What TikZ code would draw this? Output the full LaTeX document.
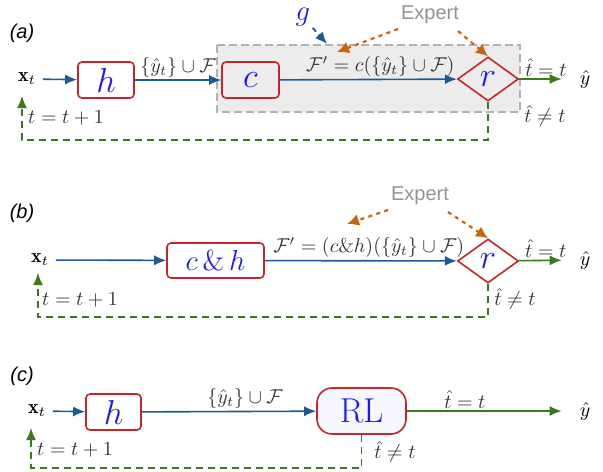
\documentclass[tikz,border=0pt]{standalone}
\usepackage{amsmath,amssymb}
\usepackage{fontspec}
\setsansfont{Liberation Sans}
\usetikzlibrary{arrows.meta,shapes.geometric}
\definecolor{arrblue}{HTML}{1B5A96}
\definecolor{boxred}{HTML}{C8242C}
\definecolor{txtblue}{HTML}{1A1AF5}
\definecolor{okgreen}{HTML}{3A7A18}
\definecolor{expcol}{HTML}{C8660C}
\definecolor{boxgray}{HTML}{ECECEC}
\begin{document}
\begin{tikzpicture}[x=0.5pt,y=-0.5pt,
	box/.style={draw=boxred, line width=0.8pt, rounded corners=2pt, text=txtblue, inner sep=0pt},
	dec/.style={diamond, draw=boxred, line width=0.8pt, text=txtblue, inner sep=0pt, minimum width=30.5pt, minimum height=22pt, font=\LARGE},
	flow/.style={arrblue, line width=0.8pt, -{Latex[length=6pt,width=5pt]}},
	done/.style={okgreen, line width=0.8pt, -{Latex[length=6pt,width=5pt]}, shorten >=5.5pt},
	back/.style={okgreen, line width=0.8pt, dash pattern=on 3.5pt off 2.5pt, -{Latex[length=6pt,width=5pt]}},
	hint/.style={expcol, line width=1.1pt, dash pattern=on 2pt off 2.2pt, -{Latex[length=6pt,width=6pt]}},
	lbl/.style={text=black!80, inner sep=1pt},
	tag/.style={font=\sffamily\itshape}]
	\useasboundingbox (0,0) rectangle (603,471);
	% (a)
	\node[tag] (la) at (22,33) {(a)};
	\draw[gray!60, fill=boxgray, line width=0.8pt, dash pattern=on 4pt off 2pt] (217,45) rectangle (520,112);
	\node (xa) at (27,79) {$\mathbf{x}_t$};
	\node[box, minimum width=28pt, minimum height=18pt, font=\LARGE] (ha) at (106,80) {$h$};
	\node[box, minimum width=28.5pt, minimum height=18pt, font=\LARGE] (ca) at (250.5,80) {$c$};
	\node[dec] (ra) at (488,79) {$r$};
	\node (ya) at (585,79) {$\hat{y}$};
	\draw[flow] (xa) -- (ha);
	\draw[flow] (ha) -- node[lbl, above] {$\{\hat{y}_t\}\cup\mathcal{F}$} (ca);
	\draw[flow] (ca) -- node[lbl, above, xshift=6pt] {$\mathcal{F}'=c(\{\hat{y}_t\}\cup\mathcal{F})$} (ra);
	\draw[done] (ra) -- node[lbl, above] {$\hat{t}=t$} (ya);
	\node[lbl] (na) at (545,116) {$\hat{t}\neq t$};
	\coordinate (fa) at (22,96);
	\draw[back] (ra.south) -- ++(0,38) -| (fa);
	\node[lbl] (ka) at (66,118) {$t=t+1$};
	\node[text=txtblue, font=\Large, inner sep=1pt] (g) at (303,17) {$g$};
	\coordinate (ga) at (327,44);
	\draw[arrblue, line width=0.9pt, dash pattern=on 2.5pt off 2pt, -{Latex[length=6pt,width=5pt]}] (g) -- (ga);
	\node[text=gray!85, font=\sffamily] (ea) at (430,15) {Expert};
	\coordinate (ta) at (337,52);
	\draw[hint] ([xshift=2pt,yshift=1pt]ea.south west) -- (ta);
	\draw[hint] ([xshift=-4pt]ea.south east) -- (ra.north);
	% (b)
	\node[tag] (lb) at (22,213) {(b)};
	\node (xb) at (40,260) {$\mathbf{x}_t$};
	\node[box, minimum width=48.5pt, minimum height=17.5pt, font=\Large] (chb) at (215.5,260.5) {$c\,\&\,h$};
	\node[dec] (rb) at (488,261) {$r$};
	\node (yb) at (585,260) {$\hat{y}$};
	\draw[flow] (xb) -- (chb);
	\draw[flow] (chb) -- node[lbl, above, xshift=4pt] {$\mathcal{F}'=(c\&h)(\{\hat{y}_t\}\cup\mathcal{F})$} (rb);
	\draw[done] (rb) -- node[lbl, above] {$\hat{t}=t$} (yb);
	\node[lbl] (nb) at (515,299) {$\hat{t}\neq t$};
	\coordinate (fb) at (38,273);
	\draw[back] (rb.south) -- ++(0,33) -| (fb);
	\node[lbl] (kb) at (80,300) {$t=t+1$};
	\node[text=gray!85, font=\sffamily] (eb) at (420,196) {Expert};
	\coordinate (tb) at (347,224);
	\draw[hint] ([xshift=2pt,yshift=1pt]eb.south west) -- (tb);
	\draw[hint] ([xshift=-4pt]eb.south east) -- (rb.north);
	% (c)
	\node[tag] (lc) at (22,376) {(c)};
	\node (xc) at (37,411) {$\mathbf{x}_t$};
	\node[box, minimum width=27.5pt, minimum height=18pt, font=\LARGE] (hc) at (113.5,412) {$h$};
	\node[draw=boxred, line width=0.8pt, rounded corners=7.5pt, fill=blue!3, text=txtblue, minimum width=44.5pt, minimum height=23pt, inner sep=0pt, font=\LARGE] (rl) at (361.5,411) {RL};
	\node (yc) at (585,411) {$\hat{y}$};
	\draw[flow] (xc) -- (hc);
	\draw[flow] (hc) -- node[lbl, above, xshift=8pt] {$\{\hat{y}_t\}\cup\mathcal{F}$} (rl);
	\draw[done] (rl) -- node[lbl, above, pos=0.35] {$\hat{t}=t$} (yc);
	\node[lbl] (nc) at (395,452) {$\hat{t}\neq t$};
	\coordinate (fc) at (31,428);
	\draw[back] (rl.south) -- ++(0,33) -| (fc);
	\node[lbl] (kc) at (75,450) {$t=t+1$};
\end{tikzpicture}
\end{document}
